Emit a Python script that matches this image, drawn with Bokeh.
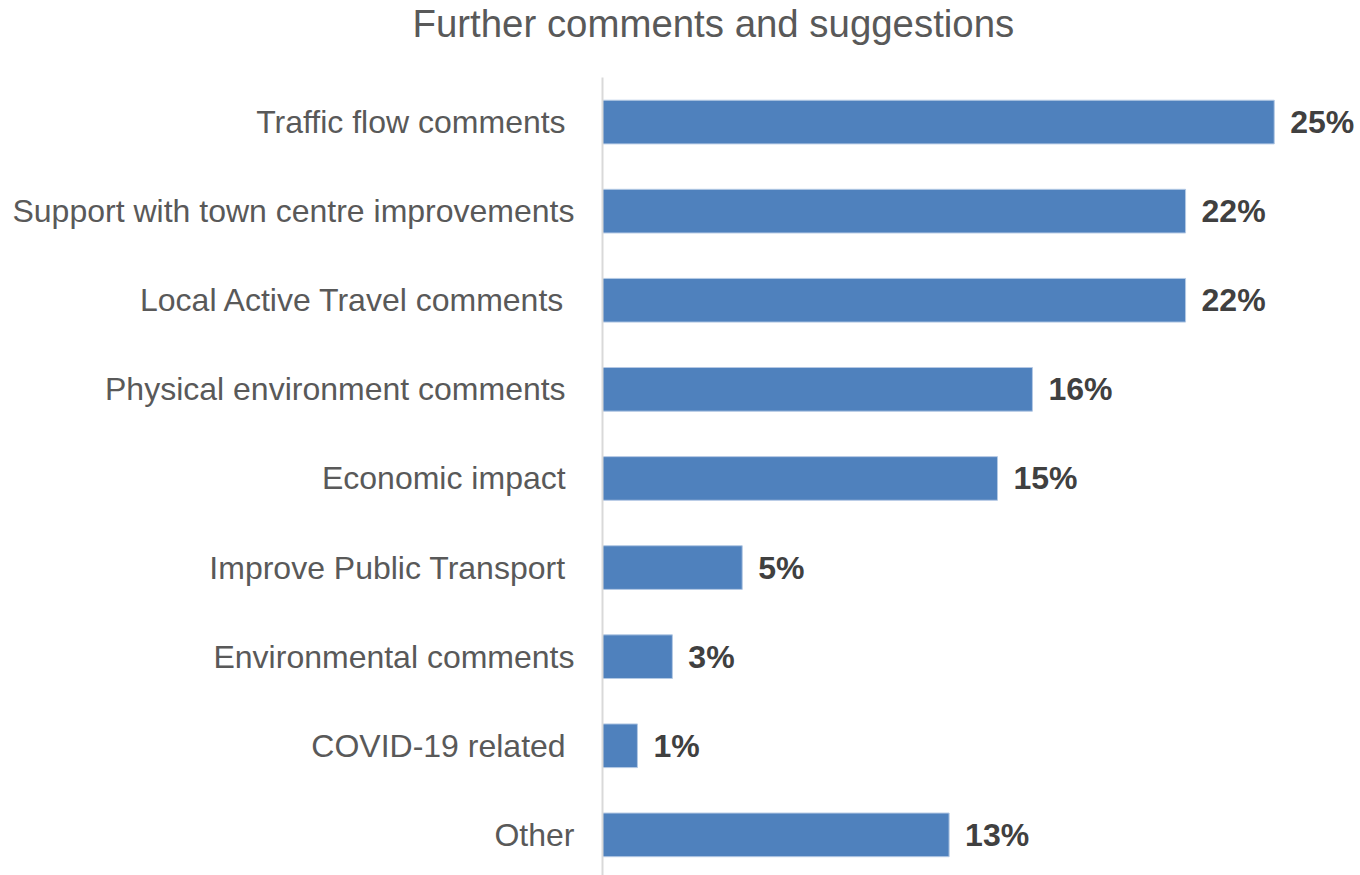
from bokeh.plotting import figure
from bokeh.models import ColumnDataSource, Range1d, FixedTicker, Title
from bokeh.core.properties import value
from bokeh.embed import file_html
from bokeh.resources import INLINE

# ---- data (top to bottom) ----
title_text = "Further comments and suggestions"
categories = [
    "Traffic flow comments ",
    "Support with town centre improvements",
    "Local Active Travel comments ",
    "Physical environment comments ",
    "Economic impact ",
    "Improve Public Transport ",
    "Environmental comments",
    "COVID-19 related ",
    "Other",
]
values = [25.0, 21.7, 21.7, 16.0, 14.7, 5.2, 2.6, 1.3, 12.9]
value_labels = ["25%", "22%", "22%", "16%", "15%", "5%", "3%", "1%", "13%"]

positions = list(range(len(categories)))
source = ColumnDataSource(dict(pos=positions, val=values, lab=value_labels))

FONT = "Liberation Sans"

p = figure(
    width=1360, height=875,
    output_backend="svg", toolbar_location=None,
    x_range=Range1d(0, 28.21),
    y_range=Range1d(8.456, -0.5),
    x_axis_location=None, y_axis_location="left",
    min_border_left=602, min_border_right=0, min_border_bottom=0, min_border_top=0,
)
p.outline_line_color = None
p.background_fill_color = "white"
p.border_fill_color = "white"
p.xgrid.visible = False
p.ygrid.visible = False

# spacer between title and plot area (closest to the frame)
spacer = Title(text=" ", text_font_size="1px", standoff=26)
p.add_layout(spacer, "above")

main_title = Title(text=title_text, text_font=FONT, text_font_size="38.4px",
                   text_font_style="normal", text_color="#595959",
                   align="left", vertical_align="top", offset=-190, standoff=3)
p.add_layout(main_title, "above")

yaxis = p.yaxis[0]
yaxis.ticker = FixedTicker(ticks=positions)
yaxis.major_label_overrides = {i: c for i, c in zip(positions, categories)}
yaxis.major_tick_out = 0
yaxis.major_tick_in = 0
yaxis.minor_tick_out = 0
yaxis.minor_tick_in = 0
yaxis.major_label_standoff = 28
yaxis.major_label_text_font = FONT
yaxis.major_label_text_font_size = "32px"
yaxis.major_label_text_color = "#595959"
yaxis.axis_line_color = "#d9d9d9"
yaxis.axis_line_width = 2

p.hbar(y="pos", left=0, right="val", height=0.49, source=source,
       fill_color="#4f81bd", line_color="#b4c9e4", line_width=1)

p.text(x="val", y="pos", text="lab", source=source,
       x_offset=16, text_align="left", text_baseline="middle",
       text_font=value(FONT), text_font_style="bold",
       text_font_size="32px", text_color="#404040")

open("out.html", "w").write(file_html(p, INLINE))
